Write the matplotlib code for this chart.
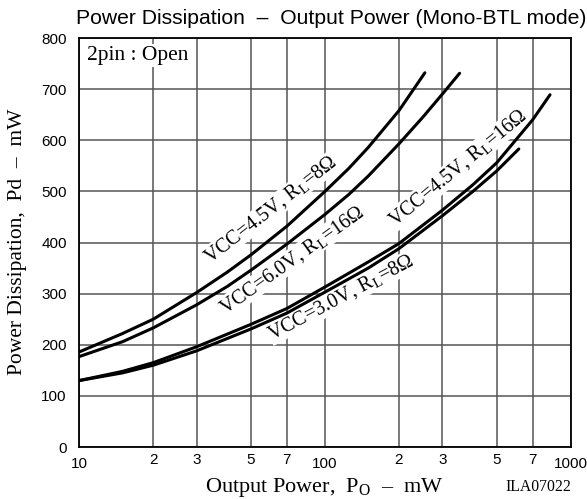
import matplotlib
matplotlib.use('Agg')
import matplotlib.pyplot as plt
from matplotlib.ticker import FixedLocator, FixedFormatter

# ---- data ----
a_x = [10, 15, 20, 30, 40, 50, 70, 100, 125, 150, 200, 255]
a_y = [186, 222, 250, 302, 342, 376, 432, 500, 545, 586, 658, 732]     # VCC=4.5V, RL=8Ω
b_x = [10, 15, 20, 30, 40, 50, 70, 100, 125, 150, 200, 250, 300, 353]
b_y = [177, 206, 233, 278, 314, 346, 397, 455, 494, 530, 593, 645, 690, 731]  # VCC=6.0V, RL=16Ω
c_x = [10, 15, 20, 30, 50, 70, 100, 150, 200, 300, 400, 500, 615]
c_y = [130, 145, 160, 188, 231, 262, 303, 350, 388, 452, 500, 540, 583]  # VCC=3.0V, RL=8Ω
d_x = [10, 15, 20, 30, 50, 70, 100, 150, 200, 300, 400, 500, 700, 824]
d_y = [130, 148, 165, 196, 240, 271, 313, 362, 398, 463, 513, 556, 640, 689]  # VCC=4.5V, RL=16Ω

major_ticks = [10, 100, 1000]
major_labels = ['10', '100', '1000']
minor_ticks = [20, 30, 50, 70, 200, 300, 500, 700]
minor_labels = ['2', '3', '5', '7', '2', '3', '5', '7']
y_ticks = [0, 100, 200, 300, 400, 500, 600, 700, 800]

plt.rcParams['mathtext.fontset'] = 'custom'
plt.rcParams['mathtext.rm'] = 'Liberation Serif'
plt.rcParams['mathtext.it'] = 'Liberation Serif:italic'

fig = plt.figure(figsize=(5.87, 4.99), dpi=100)
ax = fig.add_axes([0.1351, 0.1042, 0.8371, 0.8196])
ax.set_xscale('log')
ax.set_xlim(10, 1000)
ax.set_ylim(0, 800)

ax.xaxis.set_major_locator(FixedLocator(major_ticks))
ax.xaxis.set_major_formatter(FixedFormatter(major_labels))
ax.xaxis.set_minor_locator(FixedLocator(minor_ticks))
ax.xaxis.set_minor_formatter(FixedFormatter(minor_labels))
ax.set_yticks(y_ticks)

sans = ['Liberation Sans', 'DejaVu Sans']
serif = ['Liberation Serif', 'DejaVu Serif']
ax.tick_params(axis='x', which='major', length=0, pad=7, labelsize=11)
ax.tick_params(axis='x', which='minor', length=0, pad=4, labelsize=11)
ax.tick_params(axis='y', length=0, pad=9, labelsize=11)
for lab in ax.get_xticklabels(which='both') + ax.get_yticklabels():
    lab.set_family(sans)

ax.grid(which='both', color='#555555', linewidth=1.1, zorder=0)
for s in ax.spines.values():
    s.set_linewidth(1.3)
    s.set_color('black')

lw = 2.2
for xs, ys in [(a_x, a_y), (b_x, b_y), (c_x, c_y), (d_x, d_y)]:
    ax.plot(xs, ys, color='black', lw=lw, zorder=3,
            solid_capstyle='round', solid_joinstyle='round')

box = dict(facecolor='white', edgecolor='none', pad=0.5)
lbl_kw = dict(family=serif, fontsize=14.5, ha='center', va='center',
              rotation_mode='anchor', zorder=2, bbox=box)
ax.text(60, 464, r'VCC=4.5V, R$\mathregular{_L}$=8Ω', rotation=38, **lbl_kw)
ax.text(73.5, 366, r'VCC=6.0V, R$\mathregular{_L}$=16Ω', rotation=35.5, **lbl_kw)
ax.text(116, 292, r'VCC=3.0V, R$\mathregular{_L}$=8Ω', rotation=28, **lbl_kw)
ax.text(347, 546, r'VCC=4.5V, R$\mathregular{_L}$=16Ω', rotation=39.5, **lbl_kw)

ax.text(0.016, 0.958, '2pin : Open', transform=ax.transAxes, family=serif,
        fontsize=15.5, ha='left', va='center', zorder=2,
        bbox=dict(facecolor='white', edgecolor='none', pad=1.5))

fig.text(0.5645, 0.962, 'Power Dissipation  –  Output Power (Mono-BTL mode)',
         family=sans, fontsize=15.2, ha='center', va='center')

fig.text(0.029, 0.516, 'Power Dissipation,  Pd  –  mW', rotation=90,
         family=serif, fontsize=15.5, ha='center', va='center')
fig.text(0.553, 0.024, r'Output Power,  P$\mathregular{_O}$  –  mW',
         family=serif, fontsize=16, ha='center', va='center')
fig.text(0.917, 0.024, 'ILA07022', family=serif, fontsize=11.3,
         ha='center', va='center')

fig.savefig('out.png', dpi=100)
